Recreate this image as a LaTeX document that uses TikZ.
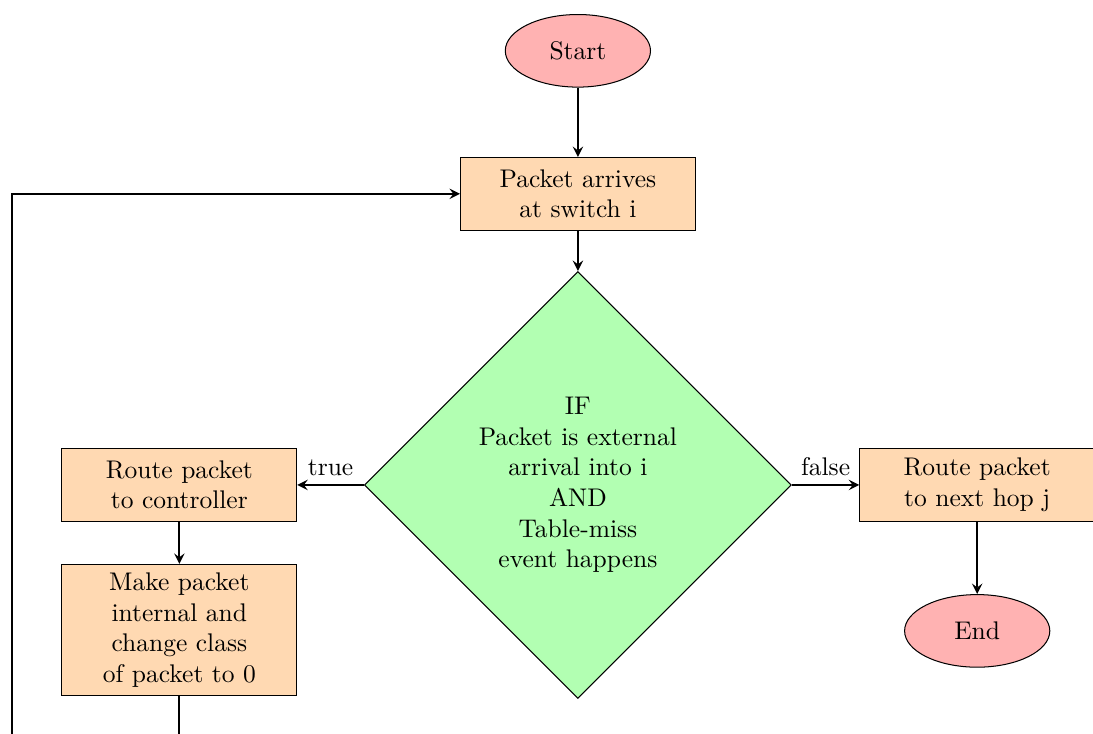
\documentclass[tikz,border=0pt]{standalone}
\usepackage{tikz}
\usetikzlibrary{arrows.meta, positioning, shapes.geometric}

\begin{document}
\begin{tikzpicture}[
    terminal/.style={ellipse, draw=black, fill=red!30,
                     minimum width=2cm, minimum height=1cm, align=center},
    process/.style={rectangle, draw=black, fill=orange!30, text width=3cm,
                    minimum height=1cm, align=center},
    decision/.style={diamond, draw=black, fill=green!30, aspect=1,
                     minimum width=5.88cm, minimum height=5.88cm,
                     text width=3cm, inner sep=0pt, align=center},
    arr/.style={thick, ->, >=stealth}
  ]
    \clip (0,0) rectangle (15.055,-10.11);
    \useasboundingbox (0,0) rectangle (15.055,-10.11);

    \node[terminal] (start) at (7.96,-0.70) {Start};
    \node[process] (arrive) at (7.96,-2.67) {Packet arrives\\at switch i};
    \node[decision] (check) at (7.96,-6.68)
      {IF\\Packet is external\\arrival into i\\AND\\Table-miss\\event happens};
    \node[process] (ctrl) at (2.47,-6.68) {Route packet\\to controller};
    \node[process] (internal) at (2.47,-8.68)
      {Make packet\\internal and\\change class\\of packet to 0};
    \node[process] (nexthop) at (13.46,-6.68) {Route packet\\to next hop j};
    \node[terminal] (stop) at (13.46,-8.69) {End};
    \coordinate (loop) at (0.165,-10.6);

    \draw[arr] (start) -- (arrive);
    \draw[arr] (arrive) -- (check);
    \draw[arr] (check) -- node[above] {true} (ctrl);
    \draw[arr] (check) -- node[above] {false} (nexthop);
    \draw[arr] (ctrl) -- (internal);
    \draw[arr] (nexthop) -- (stop);
    \draw[arr] (internal.south) |- (loop) |- (arrive.west);
  \end{tikzpicture}
\end{document}
